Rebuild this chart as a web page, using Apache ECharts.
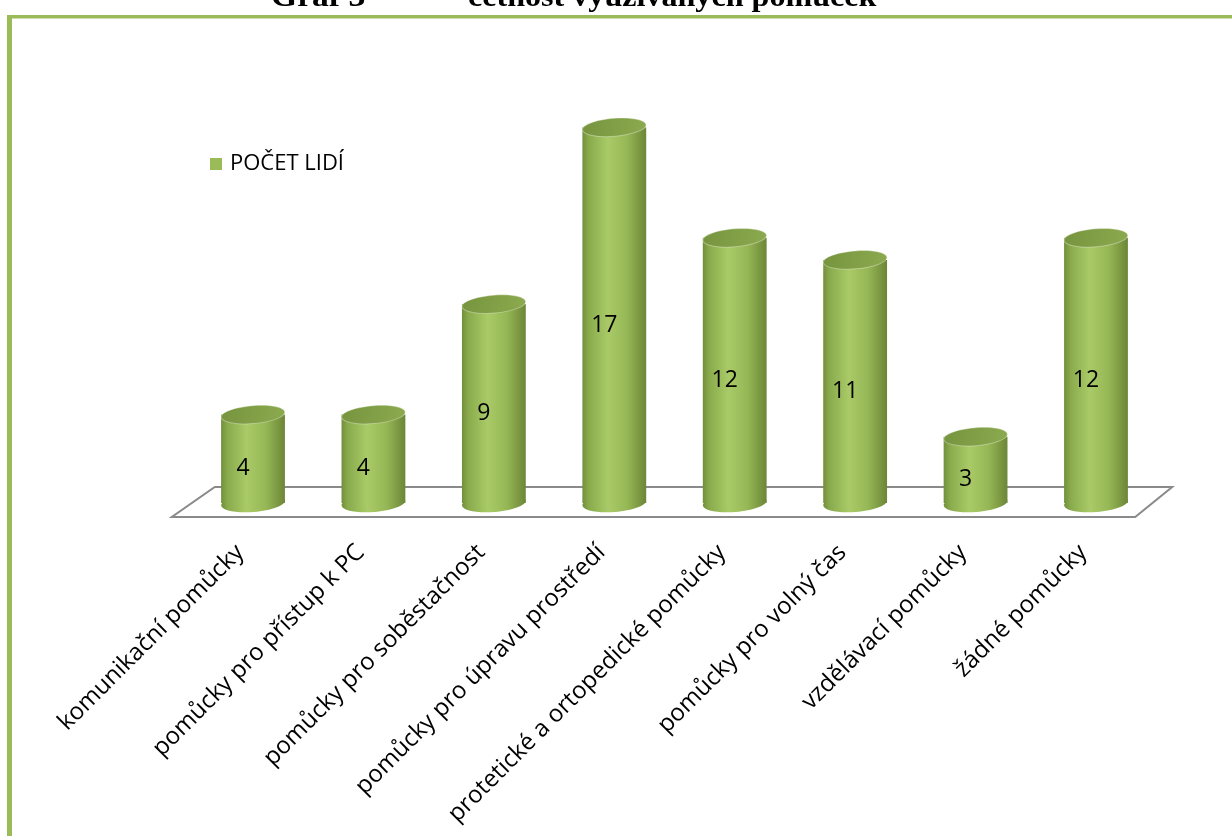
<!DOCTYPE html>
<html>
<head>
<meta charset="utf-8">
<script src="https://cdn.jsdelivr.net/npm/echarts@6/dist/echarts.min.js"></script>
<style>
  html, body { margin: 0; padding: 0; background: #ffffff; }
  #chart { width: 1232px; height: 836px; }
</style>
</head>
<body>
<div id="chart"></div>
<script>
// Categories of aids and the number of people using each
const categories = [
  'komunikační pomůcky',
  'pomůcky pro přístup k PC',
  'pomůcky pro soběstačnost',
  'pomůcky pro úpravu prostředí',
  'protetické a ortopedické pomůcky',
  'pomůcky pro volný čas',
  'vzdělávací pomůcky',
  'žádné pomůcky'
];
const pocetLidi = [4, 4, 9, 17, 12, 11, 3, 12];
const seriesName = 'POČET LIDÍ';
const titleParts = ['Graf 3', 'četnost využívaných pomůcek'];

const FONT = '"Open Sans", "Noto Sans", sans-serif';
const TITLE_FONT = 'bold 30px "Liberation Serif", "Times New Roman", serif';
const GREEN = '#9bbb59';

const chart = echarts.init(document.getElementById('chart'), null, { renderer: 'canvas' });

const bodyGradient = new echarts.graphic.LinearGradient(0, 0, 1, 0, [
  { offset: 0, color: '#728f3c' },
  { offset: 0.1, color: '#8aab4c' },
  { offset: 0.4, color: '#a9ca67' },
  { offset: 0.7, color: '#96b755' },
  { offset: 0.92, color: '#77933f' },
  { offset: 1, color: '#6b8637' }
]);
const topGradient = new echarts.graphic.LinearGradient(0, 0, 1, 1, [
  { offset: 0, color: '#76943e' },
  { offset: 1, color: '#8caa4e' }
]);

// Cylinder: body rectangle + bottom cap + top cap, with the value in the middle
function renderCylinder(params, api) {
  const idx = api.value(0);
  const val = api.value(1);
  const base = api.coord([idx, 0]);
  const top = api.coord([idx, val]);
  const band = api.size([1, 0])[0];
  const rx = band * 0.265;
  const ry = 9;
  const cx = top[0];
  const tilt = 0.08;
  return {
    type: 'group',
    children: [
      {
        type: 'ellipse',
        shape: { cx: cx, cy: base[1], rx: rx, ry: ry },
        rotation: tilt, originX: cx, originY: base[1],
        style: { fill: bodyGradient }
      },
      {
        type: 'rect',
        shape: { x: cx - rx, y: top[1], width: rx * 2, height: base[1] - top[1] },
        style: { fill: bodyGradient }
      },
      {
        type: 'ellipse',
        shape: { cx: cx, cy: top[1], rx: rx, ry: ry },
        rotation: tilt, originX: cx, originY: top[1],
        style: { fill: topGradient, stroke: 'rgba(255,255,255,0.35)', lineWidth: 1 }
      },
      {
        type: 'text',
        x: cx - 10,
        y: (top[1] + base[1]) / 2 + 10,
        style: {
          text: String(val),
          fill: '#000',
          font: '23px ' + FONT,
          align: 'center',
          verticalAlign: 'middle'
        }
      }
    ]
  };
}

// Floor plane under the cylinders, derived from the grid rectangle
function renderFloor(params, api) {
  const cs = params.coordSys;
  const zeroY = api.coord([0, 0])[1];
  const backY = zeroY - 16;
  const frontY = zeroY + 14;
  const l = cs.x, r = cs.x + cs.width;
  return {
    type: 'polygon',
    shape: {
      points: [
        [l + 22, backY], [r + 16, backY],
        [r - 21, frontY], [l - 21, frontY]
      ]
    },
    style: { fill: '#ffffff', stroke: '#8a8a8a', lineWidth: 2 }
  };
}

const option = {
  backgroundColor: '#ffffff',
  animation: false,
  graphic: [
    {
      type: 'text', x: 271, y: 13, scaleX: 1.12,
      style: { text: titleParts[0], font: TITLE_FONT, fill: '#000', verticalAlign: 'bottom' }
    },
    {
      type: 'text', x: 468, y: 13, scaleX: 1.07,
      style: { text: titleParts[1], font: TITLE_FONT, fill: '#000', verticalAlign: 'bottom' }
    },
    {
      type: 'rect',
      shape: { x: 7, y: 15, width: 5, height: 840 },
      style: { fill: GREEN }
    },
    {
      type: 'rect',
      shape: { x: 7, y: 15, width: 1230, height: 3.5 },
      style: { fill: GREEN }
    }
  ],
  legend: {
    left: 205,
    top: 148,
    icon: 'rect',
    itemWidth: 12,
    itemHeight: 12,
    data: [seriesName],
    textStyle: { fontFamily: FONT, fontSize: 22, color: '#000', padding: [0, 0, 0, 3] }
  },
  grid: {
    left: 192.8,
    right: 75.8,
    top: 61,
    bottom: 333
  },
  xAxis: {
    type: 'category',
    data: categories,
    axisLine: { show: false },
    axisTick: { show: false },
    axisLabel: {
      interval: 0,
      rotate: 45,
      margin: 33,
      padding: [0, 18, 0, 0],
      fontFamily: FONT,
      fontSize: 24,
      color: '#000'
    }
  },
  yAxis: {
    type: 'value',
    min: 0,
    max: 20,
    show: false,
    splitLine: { show: false }
  },
  series: [
    {
      type: 'custom',
      name: 'floor',
      renderItem: renderFloor,
      data: [[0, 0]],
      silent: true,
      z: 1
    },
    {
      type: 'custom',
      name: seriesName,
      itemStyle: { color: GREEN },
      renderItem: renderCylinder,
      encode: { x: 0, y: 1 },
      data: pocetLidi.map((v, i) => [i, v]),
      z: 2
    }
  ]
};

chart.setOption(option);
</script>
</body>
</html>
